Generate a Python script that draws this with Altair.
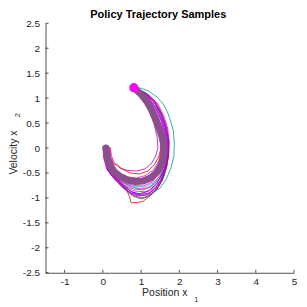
import altair as alt
import pandas as pd

# ---- data ----
mean_x = [0.08, 0.10, 0.13, 0.20, 0.30, 0.45, 0.65, 0.85, 1.05, 1.25, 1.42, 1.53, 1.59, 1.60, 1.55, 1.47, 1.38, 1.27, 1.15, 1.02, 0.90, 0.81]
mean_y = [0.00, -0.10, -0.22, -0.36, -0.48, -0.57, -0.64, -0.67, -0.66, -0.60, -0.48, -0.33, -0.15, 0.03, 0.22, 0.40, 0.58, 0.77, 0.93, 1.06, 1.15, 1.21]

goal_x = [0.81]
goal_y = [1.21]

traj_a = [(0.05,0.02),(0.05,-0.15),(0.12,-0.35),(0.25,-0.52),(0.44,-0.68),(0.62,-0.84),(0.70,-0.98),(0.74,-1.10),(0.90,-1.09),(1.05,-1.07),(1.20,-0.98),(1.35,-0.88),(1.50,-0.72),(1.62,-0.50),(1.68,-0.25),(1.68,0.05),(1.62,0.32),(1.50,0.60),(1.32,0.88),(1.10,1.08),(0.81,1.21)]
traj_b = [(0.10,0.03),(0.08,-0.18),(0.14,-0.40),(0.30,-0.58),(0.50,-0.72),(0.68,-0.84),(0.88,-0.93),(1.10,-0.95),(1.30,-0.90),(1.50,-0.80),(1.66,-0.62),(1.78,-0.40),(1.86,-0.15),(1.87,0.10),(1.84,0.36),(1.76,0.56),(1.70,0.70),(1.58,0.88),(1.42,1.02),(1.20,1.14),(1.00,1.20),(0.81,1.21)]
traj_c = [(0.12,0.0),(0.14,-0.2),(0.20,-0.42),(0.35,-0.60),(0.55,-0.74),(0.80,-0.82),(1.05,-0.84),(1.28,-0.77),(1.48,-0.62),(1.62,-0.40),(1.70,-0.12),(1.70,0.15),(1.64,0.40),(1.52,0.65),(1.36,0.90),(1.14,1.08),(0.81,1.21)]
traj_d = [(0.03,0.01),(0.06,-0.22),(0.14,-0.45),(0.30,-0.61),(0.52,-0.74),(0.75,-0.88),(0.98,-0.92),(1.20,-0.86),(1.40,-0.72),(1.56,-0.52),(1.66,-0.28),(1.69,0.0),(1.64,0.28),(1.54,0.54),(1.40,0.78),(1.20,1.00),(0.81,1.21)]
traj_e = [(0.15,0.02),(0.16,-0.18),(0.24,-0.36),(0.40,-0.50),(0.62,-0.58),(0.88,-0.60),(1.12,-0.55),(1.32,-0.44),(1.46,-0.27),(1.52,-0.05),(1.50,0.20),(1.42,0.46),(1.30,0.72),(1.14,0.95),(0.98,1.10),(0.81,1.21)]
traj_f = [(0.0,0.03),(0.02,-0.2),(0.10,-0.42),(0.28,-0.60),(0.50,-0.76),(0.72,-0.90),(0.98,-0.95),(1.22,-0.90),(1.42,-0.76),(1.58,-0.55),(1.67,-0.30),(1.70,-0.02),(1.66,0.26),(1.56,0.52),(1.42,0.77),(1.22,0.98),(1.02,1.12),(0.81,1.21)]
traj_g = [(0.20,0.0),(0.22,-0.15),(0.30,-0.30),(0.45,-0.40),(0.65,-0.45),(0.88,-0.46),(1.10,-0.42),(1.28,-0.30),(1.38,-0.16),(1.44,0.0),(1.42,0.22),(1.34,0.48),(1.22,0.74),(1.06,0.98),(0.81,1.21)]
traj_h = [(0.07,0.0),(0.10,-0.22),(0.20,-0.44),(0.38,-0.62),(0.60,-0.72),(0.85,-0.78),(1.10,-0.78),(1.32,-0.70),(1.50,-0.55),(1.62,-0.34),(1.68,-0.08),(1.68,0.20),(1.62,0.46),(1.50,0.72),(1.34,0.94),(1.10,1.12),(0.81,1.21)]
traj_i = [(0.09,0.02),(0.11,-0.2),(0.18,-0.42),(0.34,-0.60),(0.56,-0.76),(0.82,-0.86),(1.08,-0.88),(1.30,-0.82),(1.50,-0.66),(1.63,-0.44),(1.72,-0.18),(1.74,0.10),(1.70,0.38),(1.60,0.64),(1.44,0.88),(1.22,1.06),(0.81,1.21)]
traj_j = [(0.05,0.0),(0.08,-0.25),(0.18,-0.48),(0.36,-0.64),(0.58,-0.82),(0.85,-0.97),(1.05,-1.0),(1.26,-0.93),(1.44,-0.80),(1.58,-0.60),(1.68,-0.36),(1.72,-0.08),(1.70,0.20),(1.60,0.50),(1.46,0.78),(1.26,1.00),(0.81,1.21)]
traj_k = [(0.12,0.04),(0.12,-0.2),(0.20,-0.44),(0.38,-0.64),(0.58,-0.82),(0.78,-0.96),(1.00,-1.02),(1.20,-0.97),(1.40,-0.84),(1.56,-0.64),(1.66,-0.40),(1.72,-0.12),(1.72,0.16),(1.66,0.42),(1.54,0.68),(1.36,0.92),(1.12,1.10),(0.81,1.21)]
traj_l = [(0.18,0.02),(0.20,-0.18),(0.28,-0.32),(0.38,-0.34),(0.50,-0.42),(0.72,-0.50),(0.96,-0.52),(1.18,-0.46),(1.34,-0.34),(1.46,-0.18),(1.52,0.0),(1.50,0.26),(1.42,0.52),(1.28,0.78),(1.10,1.00),(0.81,1.21)]
traj_m = [(0.02,0.0),(0.06,-0.2),(0.15,-0.4),(0.32,-0.55),(0.55,-0.63),(0.80,-0.66),(1.05,-0.64),(1.28,-0.56),(1.46,-0.40),(1.56,-0.20),(1.60,0.05),(1.56,0.32),(1.46,0.60),(1.30,0.86),(1.10,1.06),(0.81,1.21)]
traj_n = [(0.14,0.0),(0.15,-0.16),(0.24,-0.36),(0.40,-0.52),(0.62,-0.62),(0.86,-0.70),(1.12,-0.70),(1.34,-0.62),(1.50,-0.46),(1.60,-0.24),(1.64,0.02),(1.62,0.30),(1.52,0.56),(1.38,0.80),(1.18,1.02),(0.81,1.21)]
traj_o = [(0.10,0.01),(0.12,-0.18),(0.18,-0.40),(0.32,-0.58),(0.52,-0.70),(0.76,-0.78),(0.98,-0.82),(1.16,-0.80),(1.24,-0.77),(1.38,-0.68),(1.54,-0.50),(1.64,-0.26),(1.66,0.02),(1.62,0.30),(1.52,0.58),(1.36,0.84),(1.14,1.04),(0.81,1.21)]
traj_p = [(0.06,0.02),(0.08,-0.24),(0.16,-0.46),(0.34,-0.62),(0.56,-0.78),(0.80,-0.90),(0.95,-0.93),(1.02,-0.90),(1.18,-0.91),(1.38,-0.80),(1.54,-0.60),(1.64,-0.36),(1.70,-0.10),(1.69,0.18),(1.62,0.44),(1.50,0.70),(1.32,0.94),(1.08,1.12),(0.81,1.21)]
traj_q = [(0.16,0.03),(0.14,-0.20),(0.22,-0.42),(0.38,-0.58),(0.58,-0.70),(0.82,-0.75),(1.06,-0.76),(1.30,-0.68),(1.46,-0.52),(1.58,-0.30),(1.63,-0.04),(1.62,0.24),(1.55,0.50),(1.42,0.76),(1.24,0.98),(1.02,1.12),(0.81,1.21)]
traj_r = [(0.04,0.03),(0.03,-0.18),(0.12,-0.44),(0.30,-0.62),(0.52,-0.80),(0.74,-0.92),(0.92,-0.96),(1.14,-0.94),(1.36,-0.84),(1.52,-0.66),(1.64,-0.42),(1.70,-0.16),(1.72,0.12),(1.67,0.40),(1.56,0.66),(1.40,0.90),(1.16,1.08),(0.81,1.21)]

traj_names = ["a", "b", "c", "d", "e", "f", "g", "h", "i", "j", "k", "l", "m", "n", "o", "p", "q", "r"]
traj_list = [traj_a, traj_b, traj_c, traj_d, traj_e, traj_f, traj_g, traj_h, traj_i, traj_j,
             traj_k, traj_l, traj_m, traj_n, traj_o, traj_p, traj_q, traj_r]
traj_colors = ["#FF0000", "#00A0A0", "#00A000", "#0000FF", "#FF00FF", "#E000E0", "#C000C0",
               "#00C0C0", "#FF00FF", "#BF00BF", "#008000", "#FF0000", "#3030FF", "#00BFBF",
               "#FF00FF", "#D000D0", "#FF00FF", "#B000B0"]

x_ticks = [-1, 0, 1, 2, 3, 4, 5]
y_ticks = [-2.5, -2, -1.5, -1, -0.5, 0, 0.5, 1, 1.5, 2, 2.5]

# ---- build tables ----
rows = []
for name, pts in zip(traj_names, traj_list):
    for k, (px, py) in enumerate(pts):
        rows.append({"traj": name, "k": k, "x": px, "y": py})
df = pd.DataFrame(rows)
mean_df = pd.DataFrame({"k": list(range(len(mean_x))), "x": mean_x, "y": mean_y})
goal_df = pd.DataFrame({"x": goal_x, "y": goal_y})
xt_df = pd.DataFrame({"x": x_ticks})
yt_df = pd.DataFrame({"y": y_ticks})

W, H = 249, 250
FONT = "Liberation Sans"
AX = "#262626"

xs = alt.Scale(domain=[-1.5, 5], nice=False, zero=False)
ys = alt.Scale(domain=[-2.5, 2.5], nice=False, zero=False)

x_axis = alt.Axis(values=x_ticks, ticks=False, grid=False, domainColor=AX, domainWidth=0.8,
                  labelFont=FONT, labelFontSize=10, labelColor=AX, labelPadding=4,
                  labelOverlap=False, labelExpr="datum.value + ''",
                  title="Position x", titleFont=FONT, titleFontSize=10.5, titleFontWeight="normal",
                  titleColor=AX, titleX=119, titleY=20, titleBaseline="middle", titleAlign="center",
                  labelFlush=False)
y_axis = alt.Axis(values=y_ticks, ticks=False, grid=False, domainColor=AX, domainWidth=0.8,
                  labelFont=FONT, labelFontSize=10, labelColor=AX, labelPadding=6,
                  labelOverlap=False, labelExpr="datum.value + ''",
                  title="Velocity x", titleFont=FONT, titleFontSize=10.5,
                  titleFontWeight="normal", titleColor=AX, titleX=-32, titleY=129,
                  titleBaseline="middle", titleAlign="center", titleAngle=270, labelFlush=False)

X = alt.X("x:Q", scale=xs, axis=x_axis)
Y = alt.Y("y:Q", scale=ys, axis=y_axis)

lines = alt.Chart(df).mark_line(strokeWidth=0.8, clip=True).encode(
    x=X, y=Y,
    color=alt.Color("traj:N", scale=alt.Scale(domain=traj_names, range=traj_colors), legend=None),
    detail="traj:N",
    order="k:Q",
)

mean_line = alt.Chart(mean_df).mark_line(strokeWidth=7, color="#8B4F8B", strokeCap="round",
                                          strokeJoin="round").encode(x=X, y=Y, order="k:Q")

goal = alt.Chart(goal_df).mark_point(filled=True, shape="circle", size=85, color="#FF00FF",
                                     opacity=1).encode(x=X, y=Y)

xticks = alt.Chart(xt_df).mark_rule(color=AX, strokeWidth=0.8).encode(
    x=X, y=alt.value(H), y2=alt.value(H - 3))
yticks = alt.Chart(yt_df).mark_rule(color=AX, strokeWidth=0.8).encode(
    y=Y, x=alt.value(0), x2=alt.value(3))

title_df = pd.DataFrame({"t": ["Policy Trajectory Samples"]})
title = alt.Chart(title_df).mark_text(font=FONT, fontSize=11, fontWeight="bold", color="#000000",
                                      baseline="middle", align="center").encode(
    text="t:N", x=alt.value(113), y=alt.value(-8))

sub_df = pd.DataFrame({"t": ["1"]})
sub1 = alt.Chart(sub_df).mark_text(font=FONT, fontSize=7.5, color=AX, baseline="middle",
                                   align="center").encode(
    text="t:N", x=alt.value(151), y=alt.value(277))
sub_df2 = pd.DataFrame({"t": ["2"]})
sub2 = alt.Chart(sub_df2).mark_text(font=FONT, fontSize=7.5, color=AX, baseline="middle",
                                    align="center", angle=270).encode(
    text="t:N", x=alt.value(-28), y=alt.value(92))

chart = alt.layer(lines, mean_line, goal, xticks, yticks, title, sub1, sub2).properties(
    width=W, height=H,
    autosize=alt.AutoSizeParams(type="none"),
    padding={"left": 37.6, "top": 15, "right": 5, "bottom": 32},
).configure_view(stroke=None).configure_axis(labelOverlap=False)

chart.save("out.html", embed_options={"renderer": "svg", "actions": False})
